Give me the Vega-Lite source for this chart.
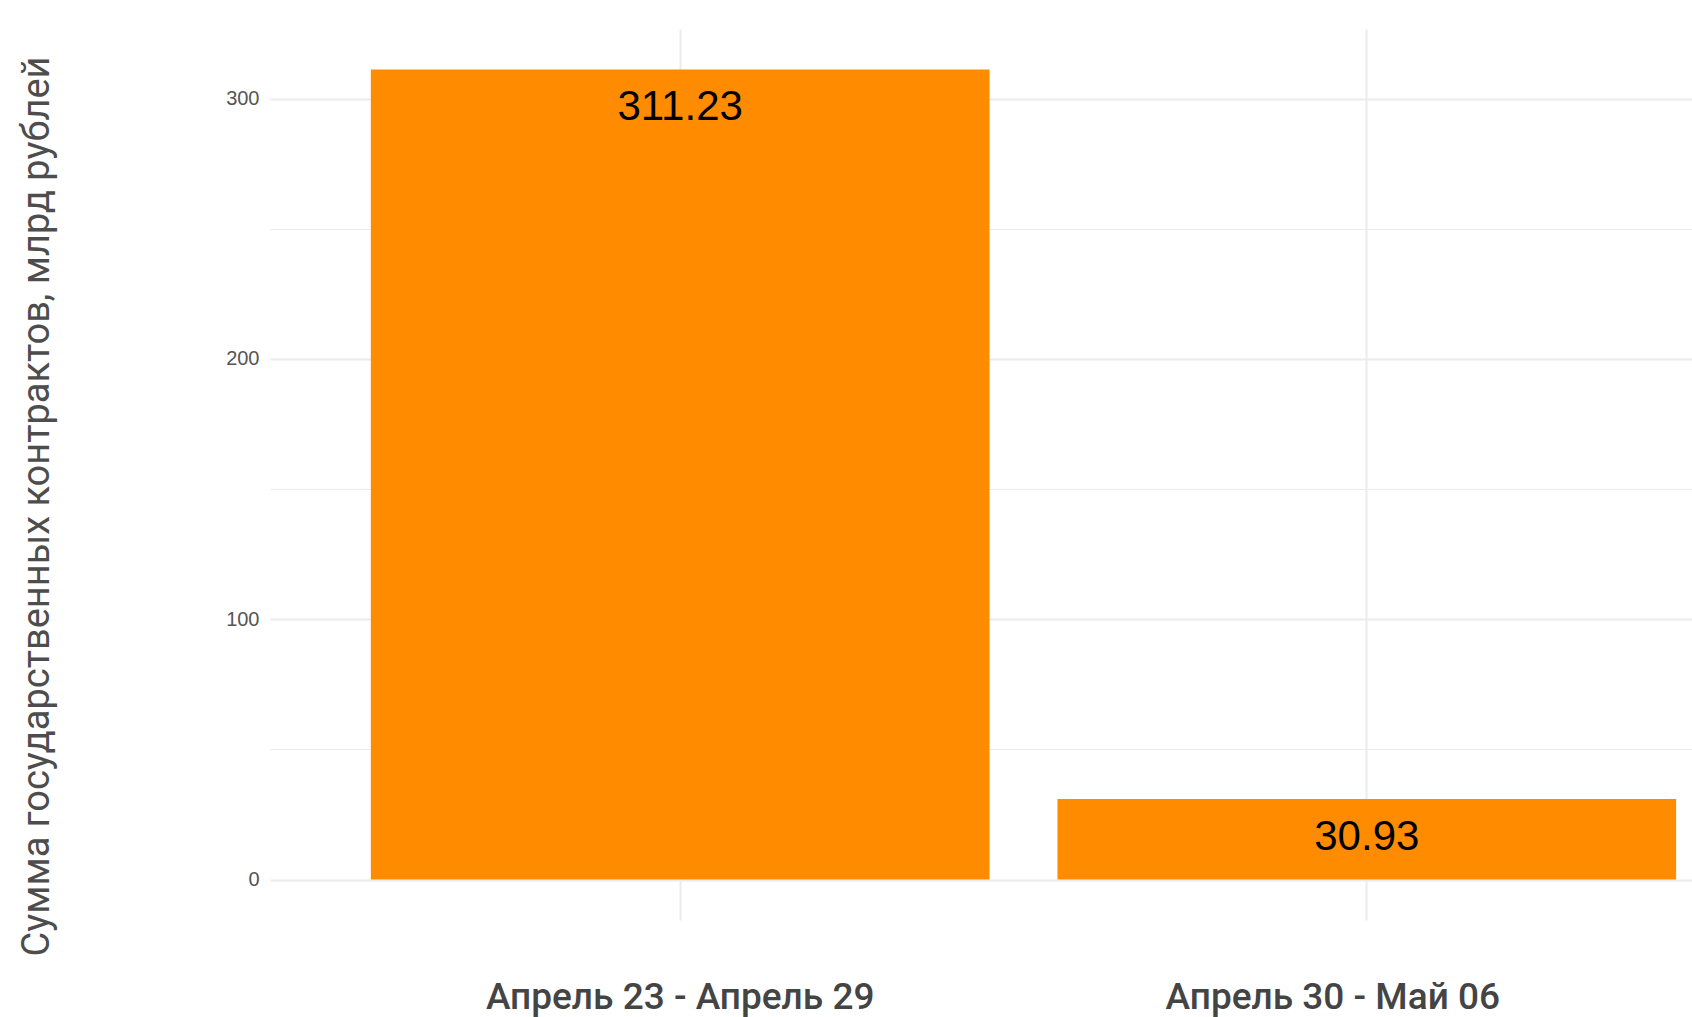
{
  "$schema": "https://vega.github.io/schema/vega-lite/v6.json",
  "width": 1422,
  "height": 891,
  "autosize": {"type": "none"},
  "padding": {"left": 270, "top": 29, "right": 0, "bottom": 97},
  "background": "white",
  "config": {"view": {"stroke": null}},
  "data": {
    "values": [
      {"period": "Апрель 23 - Апрель 29", "sum": 311.23},
      {"period": "Апрель 30 - Май 06", "sum": 30.93}
    ]
  },
  "encoding": {
    "x": {
      "field": "period",
      "type": "nominal",
      "sort": null,
      "scale": {"paddingInner": 0.099, "paddingOuter": 0.085, "align": 0.864},
      "axis": {
        "title": null,
        "labelAngle": 0,
        "labelFont": "Roboto",
        "labelFontSize": 37,
        "labelFontWeight": 500,
        "labelColor": "#444444",
        "labelPadding": 59,
        "labelLimit": 0,
        "labelOffset": {"condition": {"test": "datum.value == 'Апрель 30 - Май 06'", "value": -34}, "value": 0},
        "ticks": false,
        "domain": false,
        "grid": true,
        "gridColor": "#ebebeb",
        "gridWidth": 2,
        "bandPosition": 0.5
      }
    },
    "y": {
      "field": "sum",
      "type": "quantitative",
      "scale": {"domain": [-15.56, 326.79], "zero": false, "nice": false},
      "axis": {
        "title": "Сумма государственных контрактов, млрд рублей",
        "values": [0, 50, 100, 150, 200, 250, 300],
        "labelExpr": "datum.value % 100 == 0 ? datum.label : ''",
        "labelFont": "Liberation Sans",
        "labelFontSize": 20,
        "labelColor": "#555555",
        "labelPadding": 11,
        "ticks": false,
        "domain": false,
        "gridColor": "#ebebeb",
        "gridWidth": {"condition": {"test": "datum.value % 100 == 0", "value": 2}, "value": 1},
        "titleFont": "Roboto",
        "titleFontSize": 38,
        "titleFontWeight": "normal",
        "titleColor": "#4d4d4d",
        "titleAngle": -90,
        "titleX": -222,
        "titleY": 477,
        "titleBaseline": "alphabetic",
        "titleAlign": "center",
        "titleLimit": 0
      }
    }
  },
  "layer": [
    {"mark": {"type": "bar", "color": "#FF8C00"}, "encoding": {"y2": {"datum": 0}}},
    {
      "mark": {"type": "text", "font": "Liberation Sans", "fontSize": 42, "color": "#000000", "baseline": "middle", "dy": 38},
      "encoding": {"text": {"field": "sum", "type": "quantitative", "format": ".2f"}}
    }
  ]
}
